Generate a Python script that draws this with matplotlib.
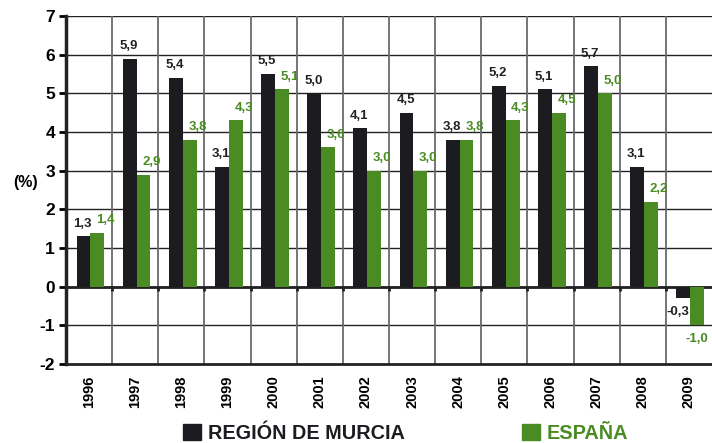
import matplotlib.pyplot as plt
from matplotlib.patches import Patch
import numpy as np

plt.rcParams['font.family'] = ['Liberation Sans', 'DejaVu Sans']

# Datos
anios = ['1996', '1997', '1998', '1999', '2000', '2001', '2002',
         '2003', '2004', '2005', '2006', '2007', '2008', '2009']
murcia = [1.3, 5.9, 5.4, 3.1, 5.5, 5.0, 4.1, 4.5, 3.8, 5.2, 5.1, 5.7, 3.1, -0.3]
espana = [1.4, 2.9, 3.8, 4.3, 5.1, 3.6, 3.0, 3.0, 3.8, 4.3, 4.5, 5.0, 2.2, -1.0]

negro = '#1c1b20'
verde = '#4a8c23'

fig = plt.figure(figsize=(7.12, 4.43), dpi=100)
ax = fig.add_axes([0.0927, 0.178, 0.9073, 0.786])

x = np.arange(len(anios))
w = 0.3
ax.bar(x - w / 2 + 0.03, murcia, w, color=negro, zorder=3)
ax.bar(x + w / 2 + 0.03, espana, w, color=verde, zorder=3)

# Etiquetas de valores
for i, (m, e) in enumerate(zip(murcia, espana)):
    tm = f'{m:.1f}'.replace('.', ',')
    te = f'{e:.1f}'.replace('.', ',')
    if m >= 0:
        ax.text(x[i] - w / 2 + 0.01, m + 0.17, tm, ha='center', va='bottom',
                fontsize=9.5, fontweight='bold', color='#222222', zorder=4)
    else:
        ax.text(x[i] - w / 2 - 0.08, m - 0.2, tm, ha='center', va='top',
                fontsize=9.5, fontweight='bold', color='#222222', zorder=4)
    if e >= 0:
        ax.text(x[i] + w / 2 + 0.2, e + 0.17, te, ha='center', va='bottom',
                fontsize=9.5, fontweight='bold', color=verde, zorder=4)
    else:
        ax.text(x[i] + w / 2 + 0.02, e - 0.2, te, ha='center', va='top',
                fontsize=9.5, fontweight='bold', color=verde, zorder=4)

ax.set_xlim(-0.5, len(anios) - 0.5)
ax.set_ylim(-2, 7)
ax.set_yticks(range(-2, 8))
ax.set_yticklabels([str(v) for v in range(-2, 8)], fontsize=12.5, fontweight='bold')
ax.set_xticks(x)
ax.set_xticklabels(anios, rotation=90, fontsize=10.5, fontweight='bold')
ax.tick_params(axis='x', length=0, pad=8)
ax.tick_params(axis='y', length=5, width=2, direction='out', pad=3)

# Rejilla
for v in range(-1, 8):
    ax.axhline(v, color='#222222', lw=1, zorder=1)
for b in np.arange(0.5, len(anios) - 0.5, 1):
    ax.axvline(b, color='#6a6a6a', lw=1.3, zorder=1)
    ax.vlines(b, -0.12, 0, color='#222222', lw=2, zorder=2)
ax.axhline(0, color='#222222', lw=2, zorder=2)

for s in ['top', 'right']:
    ax.spines[s].set_visible(False)
ax.spines['left'].set_linewidth(2.5)
ax.spines['bottom'].set_linewidth(2)
ax.spines['left'].set_color('#222222')
ax.spines['bottom'].set_color('#222222')

ax.set_ylabel('(%)', rotation=0, fontsize=11.5, fontweight='bold')
ax.yaxis.set_label_coords(-0.063, 0.5)

handles = [Patch(color=negro), Patch(color=verde)]
leg = fig.legend(handles, ['REGIÓN DE MURCIA', 'ESPAÑA'], loc='center',
                 bbox_to_anchor=(0.57, 0.022), ncol=2, frameon=False,
                 prop={'size': 14.3, 'weight': 'bold'}, handlelength=0.9,
                 handleheight=0.9, handletextpad=0.35, columnspacing=5.9)
leg.get_texts()[0].set_color(negro)
leg.get_texts()[1].set_color(verde)

fig.savefig('out.png', dpi=100)
